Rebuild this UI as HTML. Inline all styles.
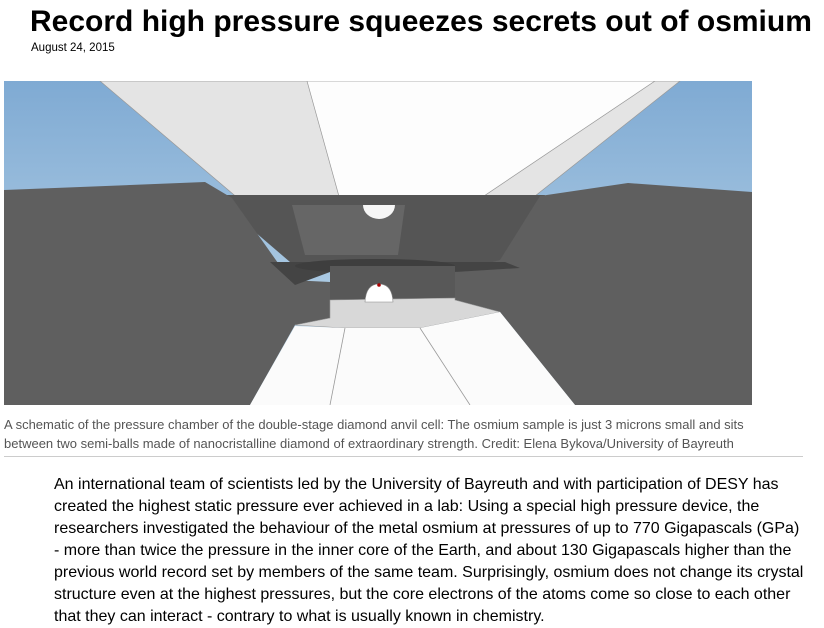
<!DOCTYPE html>
<html><head><meta charset="utf-8"><style>
body{margin:0;width:824px;height:623px;overflow:hidden;background:#fff;font-family:"Liberation Sans",sans-serif;position:relative}
h1{position:absolute;left:30px;top:5px;margin:0;font-size:30px;font-weight:bold;color:#000;white-space:nowrap}
.date{position:absolute;left:31px;top:42px;font-size:11.5px;color:#000}
svg{position:absolute;left:4px;top:81px}
.cap{position:absolute;left:4px;top:415px;width:750px;font-size:13px;line-height:19px;color:#555}
hr{position:absolute;left:4px;top:456px;width:799px;margin:0;border:0;border-top:1px solid #ccc}
.body{position:absolute;left:54px;top:474px;width:752px;font-size:16px;line-height:22px;color:#000}
</style></head><body>
<h1>Record high pressure squeezes secrets out of osmium</h1>
<div class="date">August 24, 2015</div>
<svg width="748" height="324" viewBox="4 81 748 324">
<defs><linearGradient id="sky" x1="0" y1="0" x2="0" y2="1"><stop offset="0" stop-color="#7faad3"/><stop offset="1" stop-color="#c4dcec"/></linearGradient></defs>
<rect x="4" y="81" width="748" height="324" fill="url(#sky)"/>
<polygon points="100,81 680,81 530,200 240,200" fill="#e4e4e4" stroke="#999" stroke-width="0.7"/>
<polygon points="307,81 655,81 478,200 340,200" fill="#fdfdfd" stroke="#999" stroke-width="0.7"/>
<polygon points="212,195 545,195 505,262 290,262" fill="#555"/>
<polygon points="292,205 405,205 398,255 305,255" fill="#666"/>
<polygon points="4,190 205,182 232,198 290,280 330,282 330,322 295,325 250,405 4,405" fill="#5f5f5f"/>
<polygon points="752,192 628,183 540,196 500,260 455,272 455,300 500,312 575,405 752,405" fill="#5f5f5f"/>
<polygon points="270,262 505,262 520,268 455,272 330,272 295,285" fill="#444"/>
<ellipse cx="375" cy="266" rx="80" ry="7" fill="#3e3e3e"/>
<rect x="330" y="266" width="125" height="36" fill="#585858"/>
<polygon points="330,300 455,298 455,300 500,312 420,328 345,328 295,325 330,318" fill="#d8d8d8" stroke="#999" stroke-width="0.6"/>
<polygon points="295,326 345,328 420,328 500,312 575,405 250,405" fill="#fbfbfb"/>
<line x1="345" y1="328" x2="330" y2="405" stroke="#999" stroke-width="0.8"/>
<line x1="420" y1="328" x2="470" y2="405" stroke="#999" stroke-width="0.8"/>
<path d="M363,205 A16,14 0 0 0 395,205 Z" fill="#f6f6f6"/>
<path d="M365,302 Q366,284 379,284 Q392,284 393,302 Z" fill="#fff" stroke="#888" stroke-width="0.6"/>
<circle cx="379" cy="285" r="1.8" fill="#a00"/>
</svg>
<div class="cap">A schematic of the pressure chamber of the double-stage diamond anvil cell: The osmium sample is just 3 microns small and sits between two semi-balls made of nanocristalline diamond of extraordinary strength. Credit: Elena Bykova/University of Bayreuth</div>
<hr>
<div class="body">An international team of scientists led by the University of Bayreuth and with participation of DESY has created the highest static pressure ever achieved in a lab: Using a special high pressure device, the researchers investigated the behaviour of the metal osmium at pressures of up to 770 Gigapascals (GPa) - more than twice the pressure in the inner core of the Earth, and about 130 Gigapascals higher than the previous world record set by members of the same team. Surprisingly, osmium does not change its crystal structure even at the highest pressures, but the core electrons of the atoms come so close to each other that they can interact - contrary to what is usually known in chemistry.</div>
</body></html>
